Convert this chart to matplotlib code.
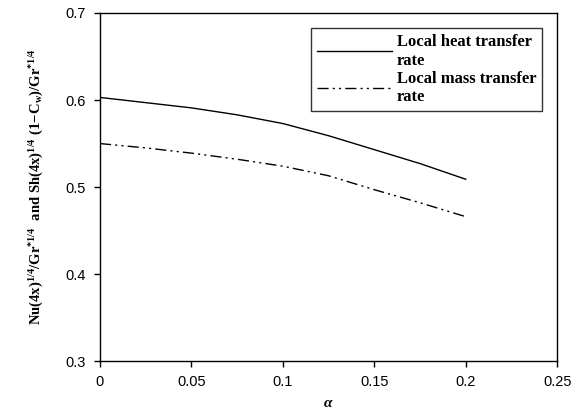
import numpy as np
import matplotlib.pyplot as plt

# --- Data ---
alpha = [0.0, 0.025, 0.05, 0.075, 0.1, 0.125, 0.15, 0.175, 0.2]
heat_rate = [0.603, 0.597, 0.591, 0.583, 0.573, 0.559, 0.543, 0.527, 0.509]
mass_rate = [0.550, 0.545, 0.539, 0.532, 0.524, 0.513, 0.497, 0.482, 0.466]

xticks = [0, 0.05, 0.1, 0.15, 0.2, 0.25]
xtick_labels = ["0", "0.05", "0.1", "0.15", "0.2", "0.25"]
yticks = [0.3, 0.4, 0.5, 0.6, 0.7]

plt.rcParams["mathtext.fontset"] = "custom"
plt.rcParams["mathtext.rm"] = "Liberation Serif:bold"
plt.rcParams["mathtext.it"] = "Liberation Serif:bold:italic"
plt.rcParams["mathtext.bf"] = "Liberation Serif:bold"

fig = plt.figure(figsize=(5.78, 4.19), dpi=100)
ax = fig.add_axes([0.173, 0.138, 0.791, 0.831])

ax.plot(alpha, heat_rate, color="black", lw=1.0, label="Local heat transfer\nrate")
ax.plot(alpha, mass_rate, color="black", lw=1.0, dashes=(8, 3, 1.5, 3, 1.5, 3),
        label="Local mass transfer\nrate")

ax.set_xlim(0, 0.25)
ax.set_ylim(0.3, 0.7)
ax.set_xticks(xticks)
ax.set_xticklabels(xtick_labels)
ax.set_yticks(yticks)
ax.set_yticklabels([f"{v:.1f}" for v in yticks])
ax.tick_params(direction="out", length=4, width=1, labelsize=10.5, pad=6)
for lab in ax.get_xticklabels() + ax.get_yticklabels():
    lab.set_family("Liberation Sans")
for sp in ax.spines.values():
    sp.set_linewidth(1.0)

ax.set_xlabel(r"$\alpha$", fontsize=11, labelpad=4)
ax.set_ylabel(r"$\mathrm{Nu(4x)^{1/4}/Gr^{*1/4}\ \ and\ Sh(4x)^{1/4}\ (1\!-\!C_w)/Gr^{*1/4}}$",
              fontsize=10.5, labelpad=14)

leg = ax.legend(loc="upper right", bbox_to_anchor=(0.985, 0.98), frameon=True,
                fancybox=False, edgecolor="black", handlelength=4.5,
                prop={"family": "Liberation Serif", "weight": "bold", "size": 12},
                borderpad=0.35, labelspacing=0.15, handletextpad=0.3)
leg.get_frame().set_linewidth(1.0)

plt.savefig("out.png", dpi=100)
